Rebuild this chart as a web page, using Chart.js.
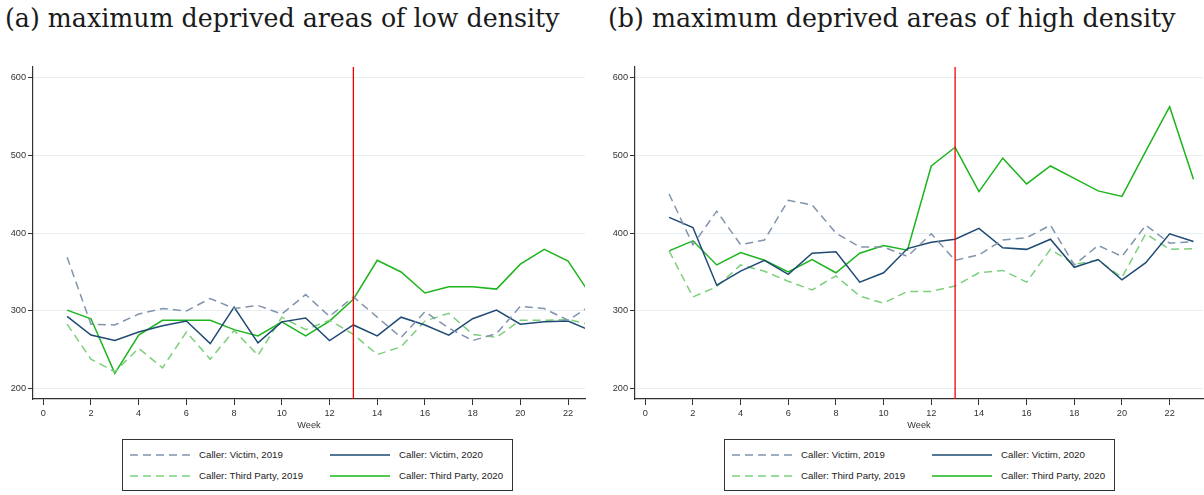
<!DOCTYPE html>
<html>
<head>
<meta charset="utf-8">
<script src="https://cdn.jsdelivr.net/npm/chart.js@4.4.1/dist/chart.umd.min.js"></script>
<style>
  body { margin: 0; background: #fff; width: 1204px; height: 495px; position: relative; overflow: hidden; font-family: "Liberation Sans", Arial, sans-serif; }
  .title { position: absolute; top: 4px; font-family: "DejaVu Serif", serif; font-size: 25.3px; color: #1a1a1a; white-space: nowrap; }
  .panel { position: absolute; top: 50px; height: 385px; }
  .legend { position: absolute; top: 439px; width: 391px; height: 52px; border: 1px solid #333; box-sizing: border-box; }
  .item { position: absolute; height: 14px; font-size: 9.7px; color: #222; line-height: 14px; white-space: nowrap; }
  .item svg { position: absolute; left: 0; top: 0; }
  .item span { position: absolute; top: 0; }
</style>
</head>
<body>
<div class="title" style="left:5px">(a) maximum deprived areas of low density</div>
<div class="title" style="left:608px">(b) maximum deprived areas of high density</div>

<div class="panel" style="left:0;width:600px"><canvas id="lowChart" width="600" height="385"></canvas></div>
<div class="panel" style="left:600px;width:604px"><canvas id="highChart" width="604" height="385"></canvas></div>

<div class="legend" id="lowLegend" style="left:122px"></div>
<div class="legend" id="highLegend" style="left:724px"></div>

<script>
// weeks and the week of the break (red line)
const weeks = [1,2,3,4,5,6,7,8,9,10,11,12,13,14,15,16,17,18,19,20,21,22,23];
const breakWeek = 13;
const yTicks = [200, 300, 400, 500, 600];

// (a) low density
const lowVictim2019 = [369,283,282,296,303,300,316,303,307,296,321,293,318,292,266,299,278,262,271,306,303,288,308];
const lowVictim2020 = [293,269,262,273,281,287,258,305,259,286,291,262,282,268,292,282,269,290,301,283,286,287,274];
const lowThird2019  = [283,238,222,252,227,273,238,275,243,292,276,288,270,244,254,287,297,270,266,288,288,289,282];
const lowThird2020  = [301,290,220,269,288,288,288,276,268,286,268,287,315,365,350,323,331,331,328,360,379,364,318];

// (b) high density
const highVictim2019 = [450,385,428,385,391,442,436,400,382,382,370,399,365,372,391,394,410,359,384,370,410,387,389];
const highVictim2020 = [420,407,333,351,365,347,374,376,337,349,380,388,392,406,381,379,392,356,366,340,362,399,389];
const highThird2019  = [377,318,331,359,351,338,327,345,319,310,325,325,332,349,352,337,379,360,365,343,399,379,380];
const highThird2020  = [377,390,359,375,365,350,366,349,374,384,378,486,510,453,496,463,486,470,454,447,505,562,469];

const labels = ['Caller: Victim, 2019', 'Caller: Victim, 2020', 'Caller: Third Party, 2019', 'Caller: Third Party, 2020'];
const styles = [
  { color: '#8194ad', dash: [8, 5] },
  { color: '#1f4a73', dash: [] },
  { color: '#7dcf7d', dash: [8, 5] },
  { color: '#1db41d', dash: [] }
];

const axisColor = '#333';
const tickFont = { family: 'Liberation Sans', size: 9.2 };

const weekLine = {
  id: 'weekLine',
  afterDatasetsDraw(chart) {
    const { ctx, chartArea, scales } = chart;
    const x = scales.x.getPixelForValue(breakWeek);
    ctx.save();
    ctx.strokeStyle = '#f20000';
    ctx.lineWidth = 1.3;
    ctx.beginPath();
    ctx.moveTo(x, chartArea.top);
    ctx.lineTo(x, chartArea.bottom);
    ctx.stroke();
    ctx.restore();
  }
};

function makeChart(id, series, yWidth, xMax, padRight) {
  const datasets = series.map((vals, i) => ({
    label: labels[i],
    data: weeks.map((w, j) => ({ x: w, y: vals[j] })),
    borderColor: styles[i].color,
    borderDash: styles[i].dash,
    borderWidth: 1.5,
    pointRadius: 0,
    tension: 0,
    fill: false
  }));
  return new Chart(document.getElementById(id), {
    type: 'line',
    data: { datasets },
    options: {
      responsive: false,
      animation: false,
      layout: { padding: { top: 17, right: padRight, left: 0, bottom: 0 } },
      plugins: { legend: { display: false }, tooltip: { enabled: false } },
      scales: {
        x: {
          type: 'linear',
          min: -0.43,
          max: xMax,
          afterFit: (s) => { s.height = 36; },
          ticks: { stepSize: 2, includeBounds: false, color: axisColor, font: tickFont, padding: 3, maxRotation: 0 },
          grid: { drawOnChartArea: false, drawTicks: true, tickLength: 6, tickColor: axisColor },
          border: { display: true, color: axisColor, width: 1.2 },
          title: { display: true, text: 'Week', color: axisColor, font: tickFont, padding: { top: 0, bottom: 4 } }
        },
        y: {
          min: 187,
          max: 613,
          afterFit: (s) => { s.width = yWidth; },
          afterBuildTicks: (s) => { s.ticks = yTicks.map(v => ({ value: v })); },
          ticks: { color: axisColor, font: tickFont, padding: 2 },
          grid: { color: '#e6eef0', lineWidth: 1, drawTicks: true, tickLength: 5, tickColor: axisColor },
          border: { display: true, color: axisColor, width: 1.2 }
        }
      }
    },
    plugins: [weekLine]
  });
}

function makeLegend(id) {
  const box = document.getElementById(id);
  const pos = [[7, 8], [207, 8], [7, 29], [207, 29]];
  labels.forEach((txt, i) => {
    const el = document.createElement('div');
    el.className = 'item';
    el.style.left = pos[i][0] + 'px';
    el.style.top = pos[i][1] + 'px';
    el.style.width = '190px';
    const dash = styles[i].dash.length ? `stroke-dasharray="${styles[i].dash.join(' ')}"` : '';
    el.innerHTML = `<svg width="62" height="14"><line x1="0" y1="7" x2="60" y2="7" stroke="${styles[i].color}" stroke-width="1.5" ${dash}/></svg><span style="left:69px">${txt}</span>`;
    box.appendChild(el);
  });
}

makeChart('lowChart', [lowVictim2019, lowVictim2020, lowThird2019, lowThird2020], 33, 22.71, 15);
makeChart('highChart', [highVictim2019, highVictim2020, highThird2019, highThird2020], 35, 23.4, 1);
makeLegend('lowLegend');
makeLegend('highLegend');
</script>
</body>
</html>
